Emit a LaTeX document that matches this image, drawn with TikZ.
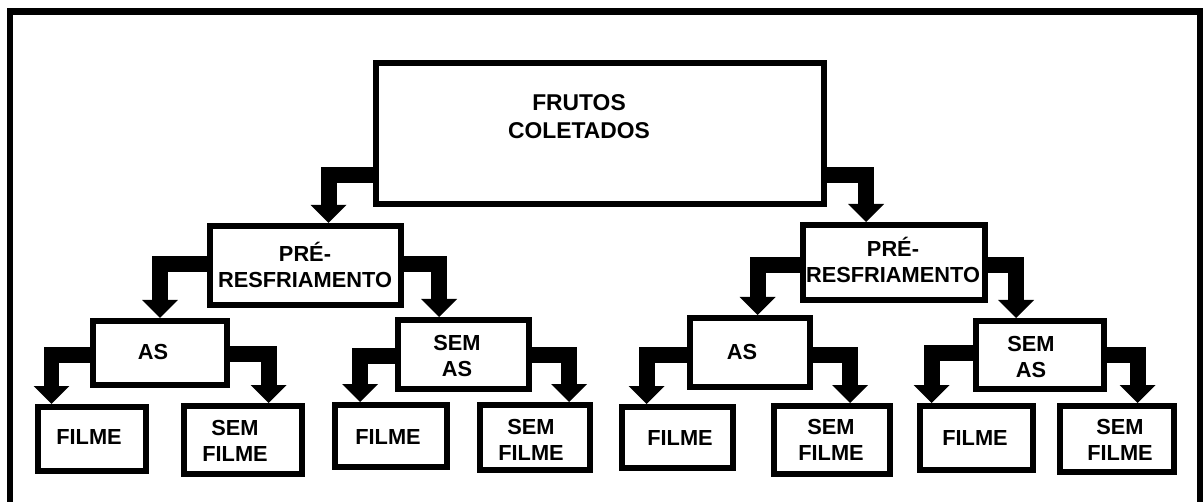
\documentclass[tikz,border=0pt]{standalone}
\usepackage{fontspec}
\setmainfont{Liberation Sans}
\usetikzlibrary{arrows.meta}
\tikzset{
  frame/.style={line width=0.13cm, draw=black},
  box/.style 2 args={draw=black, line width=0.12cm, fill=white, inner sep=0pt,
    minimum width=#1*0.02cm, minimum height=#2*0.02cm},
  boxtext/.style={font=\bfseries\fontsize{12.4}{14.8}\selectfont, align=center, inner sep=0pt},
  elbow/.style={line width=0.32cm, draw=black, line cap=butt, line join=miter,
    -{Triangle[width=0.72cm, length=0.36cm, line width=0pt]}},
}
\begin{document}
\begin{tikzpicture}[x=0.02cm, y=-0.02cm]
\clip (0,0) rectangle (1203,502);
\draw[frame] (10,11.5) rectangle (1200,530);
% boxes
\node[box={448}{141}] (top) at (600,133.5) {};
\node[box={191}{79}] (pre1) at (305.5,265.5) {};
\node[box={182}{75}] (pre2) at (894,262.5) {};
\node[box={134}{64}] (as1) at (160,353) {};
\node[box={131}{69}] (sas1) at (463.5,354.5) {};
\node[box={120}{69}] (as2) at (750,352.5) {};
\node[box={128}{68}] (sas2) at (1040,355) {};
\node[box={108}{64}] (f1) at (92,439) {};
\node[box={118}{68}] (sf1) at (243,440) {};
\node[box={112}{62}] (f2) at (391,436) {};
\node[box={110}{65}] (sf2) at (535,437.5) {};
\node[box={111}{61}] (f3) at (677.5,437.5) {};
\node[box={116}{68}] (sf3) at (832,440) {};
\node[box={113}{64}] (f4) at (976.5,438) {};
\node[box={114}{66}] (sf4) at (1117,439) {};
% texts
\node[boxtext, font=\bfseries\fontsize{13}{15.8}\selectfont] (topt) at (579,117) {FRUTOS\\COLETADOS};
\node[boxtext] (pre1t) at (305,265) {PRÉ-\\RESFRIAMENTO};
\node[boxtext] (pre2t) at (893,260) {PRÉ-\\RESFRIAMENTO};
\node[boxtext] (as1t) at (153,352) {AS};
\node[boxtext] (sas1t) at (457,356) {SEM\\AS};
\node[boxtext] (as2t) at (742,352) {AS};
\node[boxtext] (sas2t) at (1031,357) {SEM\\AS};
\node[boxtext] (f1t) at (89,437) {FILME};
\node[boxtext] (sf1t) at (235,441) {SEM\\FILME};
\node[boxtext] (f2t) at (388,437) {FILME};
\node[boxtext] (sf2t) at (531,440) {SEM\\FILME};
\node[boxtext] (f3t) at (680,438) {FILME};
\node[boxtext] (sf3t) at (831,440) {SEM\\FILME};
\node[boxtext] (f4t) at (975,438) {FILME};
\node[boxtext] (sf4t) at (1120,440) {SEM\\FILME};
% arrows
\draw[elbow] (top.west |- 0,175) -| (328.5,0 |- pre1.north);
\draw[elbow] (top.east |- 0,175) -| (866,0 |- pre2.north);
\draw[elbow] (pre1.west |- 0,264.5) -| (160,0 |- as1.north);
\draw[elbow] (pre1.east |- 0,264.5) -| (439,0 |- sas1.north);
\draw[elbow] (pre2.west |- 0,265) -| (757.5,0 |- as2.north);
\draw[elbow] (pre2.east |- 0,265) -| (1016,0 |- sas2.north);
\draw[elbow] (as1.west |- 0,355) -| (51.5,0 |- f1.north);
\draw[elbow] (as1.east |- 0,354.5) -| (268.5,0 |- sf1.north);
\draw[elbow] (sas1.west |- 0,356.5) -| (360,0 |- f2.north);
\draw[elbow] (sas1.east |- 0,355) -| (569,0 |- sf2.north);
\draw[elbow] (as2.west |- 0,355) -| (646.5,0 |- f3.north);
\draw[elbow] (as2.east |- 0,355) -| (850,0 |- sf3.north);
\draw[elbow] (sas2.west |- 0,353.5) -| (931.5,0 |- f4.north);
\draw[elbow] (sas2.east |- 0,355) -| (1137.5,0 |- sf4.north);
\end{tikzpicture}
\end{document}
